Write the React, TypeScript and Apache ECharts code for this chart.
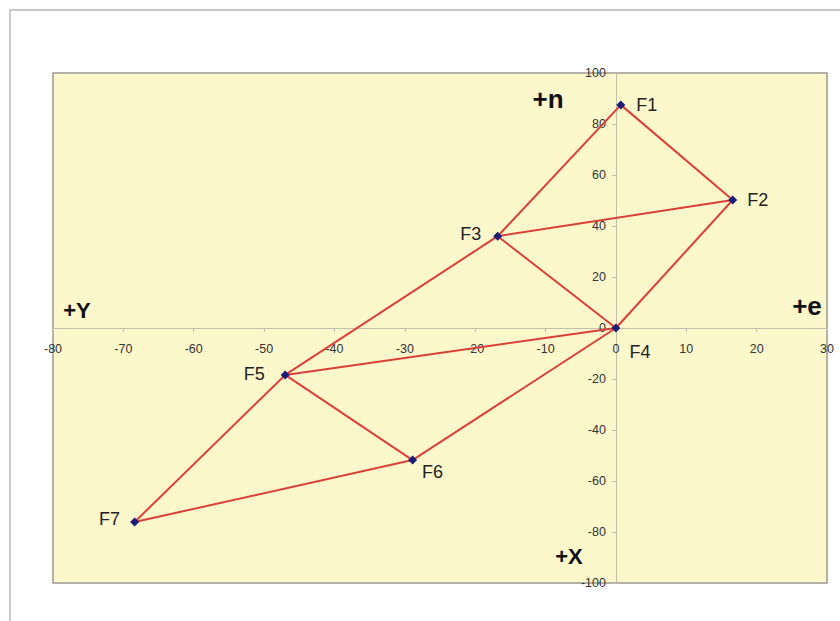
import React, { useEffect, useRef } from "react";
import * as echarts from "echarts";

const nodeNames = ["F1", "F2", "F3", "F4", "F5", "F6", "F7"];
const nodeX = [0.7, 16.6, -16.8, 0, -47.0, -28.9, -68.4];
const nodeY = [87.5, 50.2, 36.0, 0, -18.4, -51.8, -76.1];
const members: [string, string][] = [
  ["F1", "F2"],
  ["F1", "F3"],
  ["F2", "F3"],
  ["F2", "F4"],
  ["F3", "F4"],
  ["F3", "F5"],
  ["F4", "F5"],
  ["F4", "F6"],
  ["F5", "F6"],
  ["F5", "F7"],
  ["F6", "F7"],
];
const xRange = [-80, 30, 10];
const yRange = [-100, 100, 20];
const axisNames = ["+n", "+e", "+Y", "+X"];

const labelCfg: any[] = [
  { position: "right", distance: 11, offset: [0, 0] },
  { position: "right", distance: 10, offset: [0, 0] },
  { position: "left", distance: 12, offset: [0, -2] },
  { position: "right", distance: 9, offset: [0, 24] },
  { position: "left", distance: 16, offset: [0, -1] },
  { position: "right", distance: 5, offset: [0, 12] },
  { position: "left", distance: 10, offset: [0, -3] },
];

const GRID = { left: 53, top: 73, right: 13, bottom: 38, width: 774, height: 510 };

export default function App() {
  const ref = useRef<HTMLDivElement>(null);
  useEffect(() => {
    if (!ref.current) return;
    const chart = echarts.init(ref.current, null, { renderer: "svg" });
    const font = "'Liberation Sans', Arial, sans-serif";
    // shift axes so they cross at the origin (labels move with them)
    const xOff = -(GRID.height * (0 - yRange[0])) / (yRange[1] - yRange[0]);
    const yOff = -(GRID.width * (0 - xRange[0])) / (xRange[1] - xRange[0]);
    const axisColor = "#c2c0a8";
    chart.setOption({
      animation: false,
      grid: {
        left: GRID.left,
        top: GRID.top,
        right: GRID.right,
        bottom: GRID.bottom,
        show: true,
        backgroundColor: "#FCF8CC",
        borderColor: "#9a9a90",
        borderWidth: 1.5,
      },
      xAxis: {
        type: "value",
        position: "bottom",
        offset: xOff,
        min: xRange[0],
        max: xRange[1],
        interval: xRange[2],
        axisLine: { onZero: false, lineStyle: { color: axisColor, width: 1 } },
        axisTick: { show: true, length: 4, lineStyle: { color: axisColor } },
        splitLine: { show: false },
        axisLabel: {
          margin: 14,
          fontSize: 12.5,
          color: "#333",
          fontFamily: font,
          showMinLabel: true,
          showMaxLabel: true,
        },
      },
      yAxis: {
        type: "value",
        position: "left",
        offset: yOff,
        min: yRange[0],
        max: yRange[1],
        interval: yRange[2],
        axisLine: { onZero: false, lineStyle: { color: axisColor, width: 1 } },
        axisTick: { show: true, length: 4, lineStyle: { color: axisColor } },
        splitLine: { show: false },
        axisLabel: {
          margin: 10,
          fontSize: 12.5,
          color: "#333",
          fontFamily: font,
          showMinLabel: true,
          showMaxLabel: true,
        },
      },
      graphic: [
        {
          type: "rect",
          shape: { x: 10, y: 10, width: 900, height: 700 },
          style: { fill: "none", stroke: "#c8c8c8", lineWidth: 2 },
          z: -10,
        },
        {
          type: "text",
          x: 548,
          y: 99,
          style: { text: axisNames[0], font: `bold 26px ${font}`, fill: "#111", align: "center", verticalAlign: "middle" },
        },
        {
          type: "text",
          x: 807,
          y: 306,
          style: { text: axisNames[1], font: `bold 26px ${font}`, fill: "#111", align: "center", verticalAlign: "middle" },
        },
        {
          type: "text",
          x: 77,
          y: 310,
          style: { text: axisNames[2], font: `bold 22px ${font}`, fill: "#111", align: "center", verticalAlign: "middle" },
        },
        {
          type: "text",
          x: 569,
          y: 556,
          style: { text: axisNames[3], font: `bold 22px ${font}`, fill: "#111", align: "center", verticalAlign: "middle" },
        },
      ],
      series: [
        {
          type: "graph",
          coordinateSystem: "cartesian2d",
          layout: "none",
          symbol: "diamond",
          symbolSize: 9,
          itemStyle: { color: "#1c1c78" },
          lineStyle: { color: "#d9403a", width: 2, opacity: 1, curveness: 0 },
          label: {
            show: true,
            formatter: "{b}",
            fontSize: 18,
            color: "#222",
            fontFamily: font,
          },
          emphasis: { disabled: true },
          data: nodeNames.map((n, i) => ({
            name: n,
            value: [nodeX[i], nodeY[i]],
            label: labelCfg[i],
          })),
          links: members.map(([a, b]) => ({ source: a, target: b })),
          z: 5,
        },
      ],
    });
    return () => chart.dispose();
  }, []);
  return (
    <div
      ref={ref}
      style={{ position: "absolute", left: 0, top: 0, width: 840, height: 621 }}
    />
  );
}
